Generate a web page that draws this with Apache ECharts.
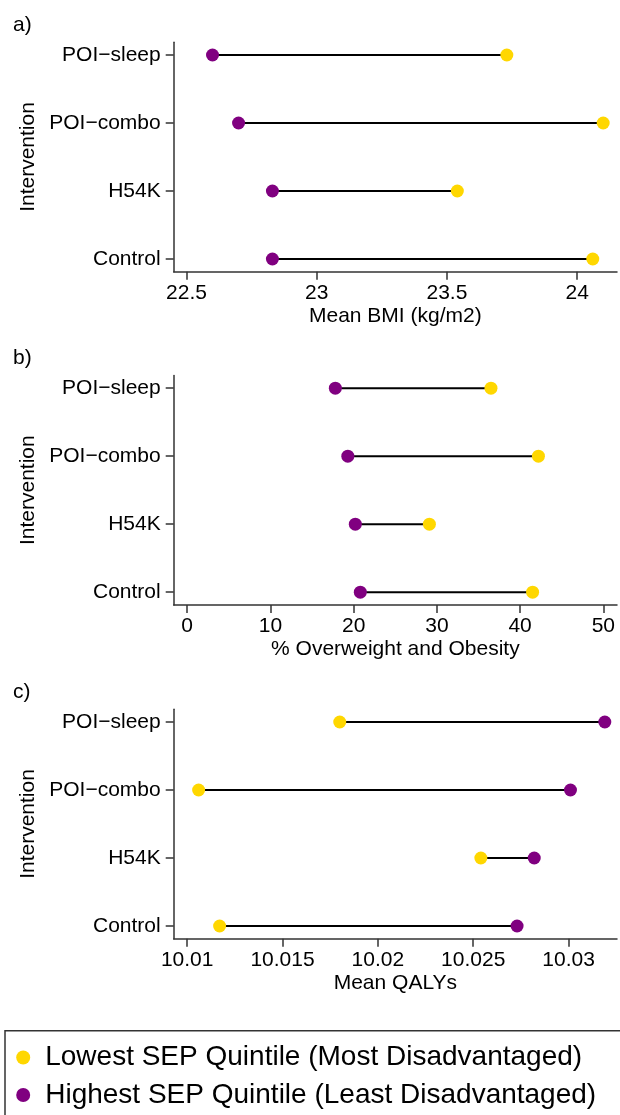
<!DOCTYPE html>
<html>
<head>
<meta charset="utf-8">
<script src="https://cdn.jsdelivr.net/npm/echarts@6/dist/echarts.min.js"></script>
<style>
  html, body { margin: 0; padding: 0; background: #fff; }
  #chart { width: 620px; height: 1115px; }
</style>
</head>
<body>
<div id="chart"></div>
<script>
// categories, bottom to top
const interventions = ['Control', 'H54K', 'POI\u2212combo', 'POI\u2212sleep'];

// a) Mean BMI
const bmiLowest = [24.06, 23.54, 24.10, 23.73];
const bmiHighest = [22.83, 22.83, 22.70, 22.60];
// b) % overweight and obesity
const owLowest = [41.5, 29.1, 42.2, 36.5];
const owHighest = [20.8, 20.2, 19.3, 17.8];
// c) Mean QALYs
const qalyLowest = [10.0117, 10.0254, 10.0106, 10.0180];
const qalyHighest = [10.0273, 10.0282, 10.0301, 10.0319];

// tick labels
const bmiTicks = [22.5, 23, 23.5, 24];
const owTicks = [0, 10, 20, 30, 40, 50];
const qalyTicks = [10.01, 10.015, 10.02, 10.025, 10.03];
const catTicks = [0, 1, 2, 3];

const lowName = 'Lowest SEP Quintile (Most Disadvantaged)';
const highName = 'Highest SEP Quintile (Least Disadvantaged)';

const YELLOW = '#FFD700';
const PURPLE = '#800080';
const FONT = '"Liberation Sans", Arial, Helvetica, sans-serif';

var chart = echarts.init(document.getElementById('chart'), null, { renderer: 'canvas' });

// panel layout
var panels = [
    { top: 42.3, label: 'a)', name: 'Mean BMI (kg/m2)', min: 22.451, max: 24.153, ticks: bmiTicks, low: bmiLowest, high: bmiHighest },
    { top: 375.5, label: 'b)', name: '% Overweight and Obesity', min: -1.62, max: 51.64, ticks: owTicks, low: owLowest, high: owHighest },
    { top: 709.3, label: 'c)', name: 'Mean QALYs', min: 10.009293, max: 10.03254, ticks: qalyTicks, low: qalyLowest, high: qalyHighest }
];

var grids = [], xAxes = [], yAxes = [], series = [], titles = [];

panels.forEach(function (p, i) {
    grids.push({ left: 173.7, right: 3, top: p.top, height: 229.4 });
    titles.push({
        text: p.label, left: 8, top: p.top - 33,
        textStyle: { fontFamily: FONT, fontSize: 21, fontWeight: 'normal', color: '#000' }
    });
    xAxes.push({
        type: 'value', gridIndex: i, min: p.min, max: p.max,
        name: p.name, nameLocation: 'middle', nameGap: 34,
        nameTextStyle: { fontFamily: FONT, fontSize: 21, color: '#000' },
        axisLine: { show: true, onZero: false, lineStyle: { color: '#333', width: 1.5 } },
        axisTick: { show: true, length: 8, customValues: p.ticks, lineStyle: { color: '#333', width: 1.5 } },
        axisLabel: {
            customValues: p.ticks, margin: 11, fontFamily: FONT, fontSize: 21, color: '#000',
            formatter: function (v) { return String(v); }
        },
        splitLine: { show: false }
    });
    yAxes.push({
        type: 'value', gridIndex: i, min: -0.187, max: 3.187,
        name: 'Intervention', nameLocation: 'middle', nameGap: 135,
        nameTextStyle: { fontFamily: FONT, fontSize: 21, color: '#000' },
        axisLine: { show: true, onZero: false, lineStyle: { color: '#333', width: 1.5 } },
        axisTick: { show: true, length: 8, customValues: catTicks, lineStyle: { color: '#333', width: 1.5 } },
        axisLabel: {
            customValues: catTicks, margin: 13, fontFamily: FONT, fontSize: 21, color: '#000',
            formatter: function (v) { return interventions[v]; }
        },
        splitLine: { show: false }
    });

    // connecting segments
    series.push({
        type: 'custom',
        xAxisIndex: i, yAxisIndex: i,
        silent: true,
        z: 1,
        encode: { x: [0, 1], y: 2 },
        data: interventions.map(function (c, k) { return [p.high[k], p.low[k], k]; }),
        renderItem: function (params, api) {
            var a = api.coord([api.value(0), api.value(2)]);
            var b = api.coord([api.value(1), api.value(2)]);
            return {
                type: 'line',
                shape: { x1: a[0], y1: a[1], x2: b[0], y2: b[1] },
                style: { stroke: '#000', lineWidth: 2 }
            };
        }
    });
    series.push({
        name: lowName, type: 'scatter', xAxisIndex: i, yAxisIndex: i, z: 3,
        symbolSize: 13, itemStyle: { color: YELLOW, opacity: 1 },
        data: p.low.map(function (v, k) { return [v, k]; })
    });
    series.push({
        name: highName, type: 'scatter', xAxisIndex: i, yAxisIndex: i, z: 3,
        symbolSize: 13, itemStyle: { color: PURPLE, opacity: 1 },
        data: p.high.map(function (v, k) { return [v, k]; })
    });
});

var option = {
    animation: false,
    backgroundColor: '#fff',
    title: titles,
    grid: grids,
    xAxis: xAxes,
    yAxis: yAxes,
    series: series,
    legend: {
        orient: 'vertical',
        left: 16.2, top: 1043.5,
        padding: 0,
        itemWidth: 34, itemHeight: 14, itemGap: 9.5,
        icon: 'circle',
        selectedMode: false,
        data: [
            { name: lowName, itemStyle: { color: YELLOW, opacity: 1 } },
            { name: highName, itemStyle: { color: PURPLE, opacity: 1 } }
        ],
        textStyle: { fontFamily: FONT, fontSize: 28, lineHeight: 28, color: '#000' }
    },
    graphic: [{
        type: 'rect',
        shape: { x: 5, y: 1030.7, width: 700, height: 200 },
        style: { fill: 'none', stroke: '#333', lineWidth: 1.5 },
        silent: true
    }]
};

chart.setOption(option);
</script>
</body>
</html>
